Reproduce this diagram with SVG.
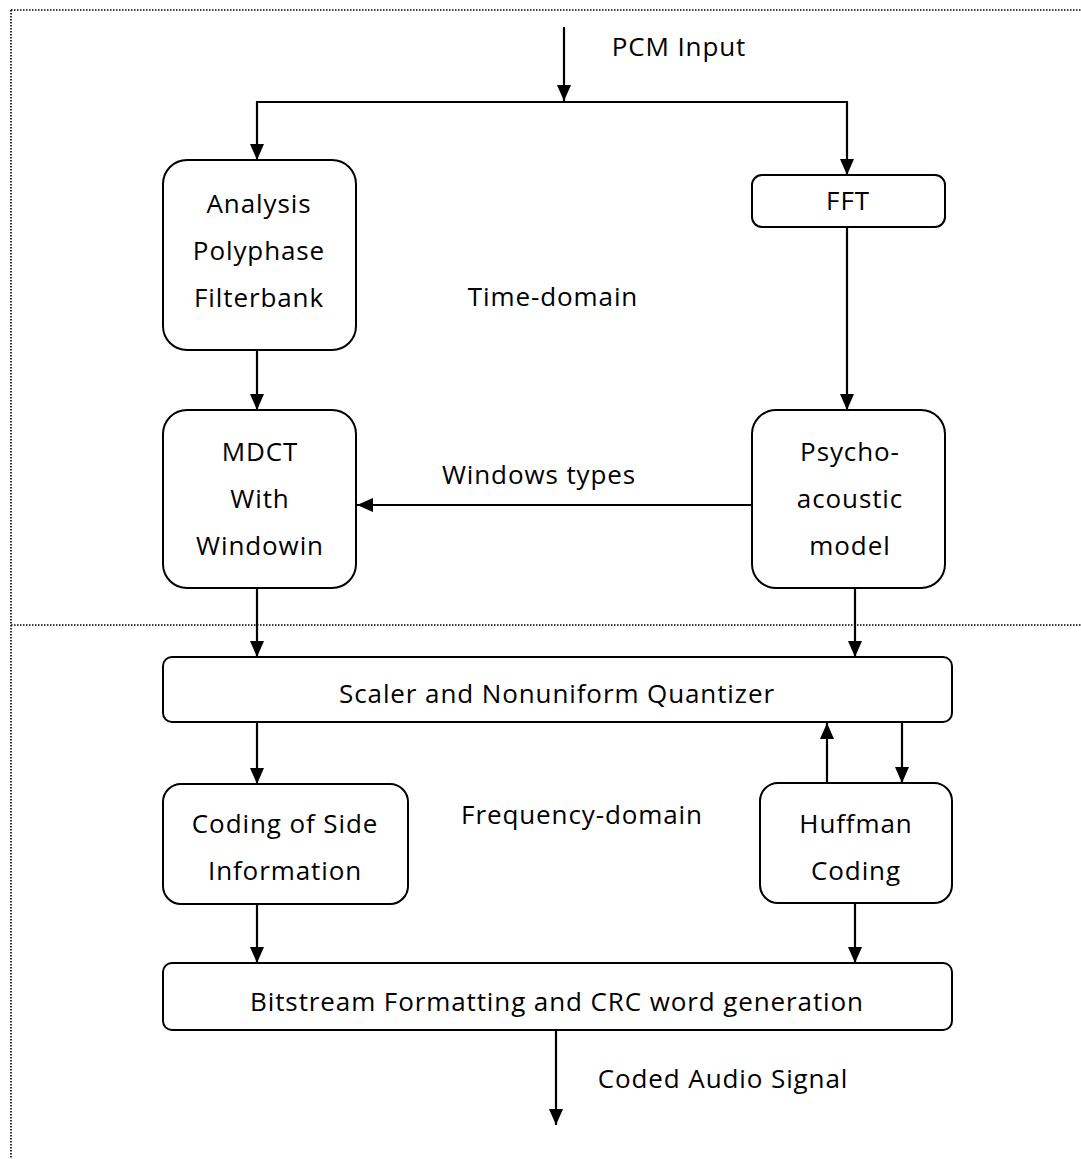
<svg xmlns="http://www.w3.org/2000/svg" width="1081" height="1159" viewBox="0 0 1081 1159">
<defs>
<marker id="ah" viewBox="0 0 16 14" refX="16" refY="7" markerWidth="16" markerHeight="15" markerUnits="userSpaceOnUse" orient="auto">
<path d="M0,0 L16,7 L0,14 Z" fill="#000"/>
</marker>
<style>
.dot{fill:none;stroke:#000;stroke-width:1.6;stroke-dasharray:1.5 1.5}
.box{fill:#fff;stroke:#000;stroke-width:2}
.ln{fill:none;stroke:#000;stroke-width:2.2}
.arr{fill:none;stroke:#000;stroke-width:2.2;marker-end:url(#ah)}
text{font-family:"Open Sans","DejaVu Sans",sans-serif;font-size:26px;fill:#000;text-anchor:middle;letter-spacing:0.9px}
</style>
</defs>
<rect width="1081" height="1159" fill="#fff"/>
<g id="frame">
<path class="dot" d="M11,10 H1081 M11,10 V1159 M11,625 H1081"/>
</g>
<g id="connectors">
<line class="arr" x1="564" y1="27" x2="564" y2="101"/>
<path class="ln" d="M257,102 H847"/>
<path class="arr" d="M257,101 V160"/>
<path class="arr" d="M847,101 V175"/>
<line class="arr" x1="257" y1="350" x2="257" y2="410"/>
<line class="arr" x1="847" y1="227" x2="847" y2="410"/>
<line class="arr" x1="752" y1="505" x2="357" y2="505"/>
<line class="arr" x1="257" y1="588" x2="257" y2="657"/>
<line class="arr" x1="855" y1="588" x2="855" y2="657"/>
<line class="arr" x1="257" y1="722" x2="257" y2="784"/>
<line class="arr" x1="827" y1="783" x2="827" y2="723"/>
<line class="arr" x1="902" y1="722" x2="902" y2="783"/>
<line class="arr" x1="257" y1="904" x2="257" y2="963"/>
<line class="arr" x1="855" y1="903" x2="855" y2="963"/>
<line class="arr" x1="556" y1="1030" x2="556" y2="1125"/>
</g>
<g id="labels">
<text x="679" y="56">PCM Input</text>
<text x="553" y="306">Time-domain</text>
<text x="539" y="484">Windows types</text>
<text x="582" y="824">Frequency-domain</text>
<text x="723" y="1088">Coded Audio Signal</text>
</g>
<g id="analysis">
<rect class="box" x="163" y="160" width="193" height="190" rx="24"/>
<text x="259" y="213">Analysis</text>
<text x="259" y="260">Polyphase</text>
<text x="259" y="307">Filterbank</text>
</g>
<g id="fft">
<rect class="box" x="752" y="175" width="193" height="52" rx="10"/>
<text x="848" y="210">FFT</text>
</g>
<g id="mdct">
<rect class="box" x="163" y="410" width="193" height="178" rx="24"/>
<text x="260" y="461">MDCT</text>
<text x="260" y="508">With</text>
<text x="260" y="555">Windowin</text>
</g>
<g id="psycho">
<rect class="box" x="752" y="410" width="193" height="178" rx="24"/>
<text x="850" y="461">Psycho-</text>
<text x="850" y="508">acoustic</text>
<text x="850" y="555">model</text>
</g>
<g id="quantizer">
<rect class="box" x="163" y="657" width="789" height="65" rx="9"/>
<text x="557" y="703">Scaler and Nonuniform Quantizer</text>
</g>
<g id="side-info">
<rect class="box" x="163" y="784" width="245" height="120" rx="18"/>
<text x="285" y="833">Coding of Side</text>
<text x="285" y="880">Information</text>
</g>
<g id="huffman">
<rect class="box" x="760" y="783" width="192" height="120" rx="18"/>
<text x="856" y="833">Huffman</text>
<text x="856" y="880">Coding</text>
</g>
<g id="bitstream">
<rect class="box" x="163" y="963" width="789" height="67" rx="9"/>
<text x="557" y="1011">Bitstream Formatting and CRC word generation</text>
</g>
</svg>
